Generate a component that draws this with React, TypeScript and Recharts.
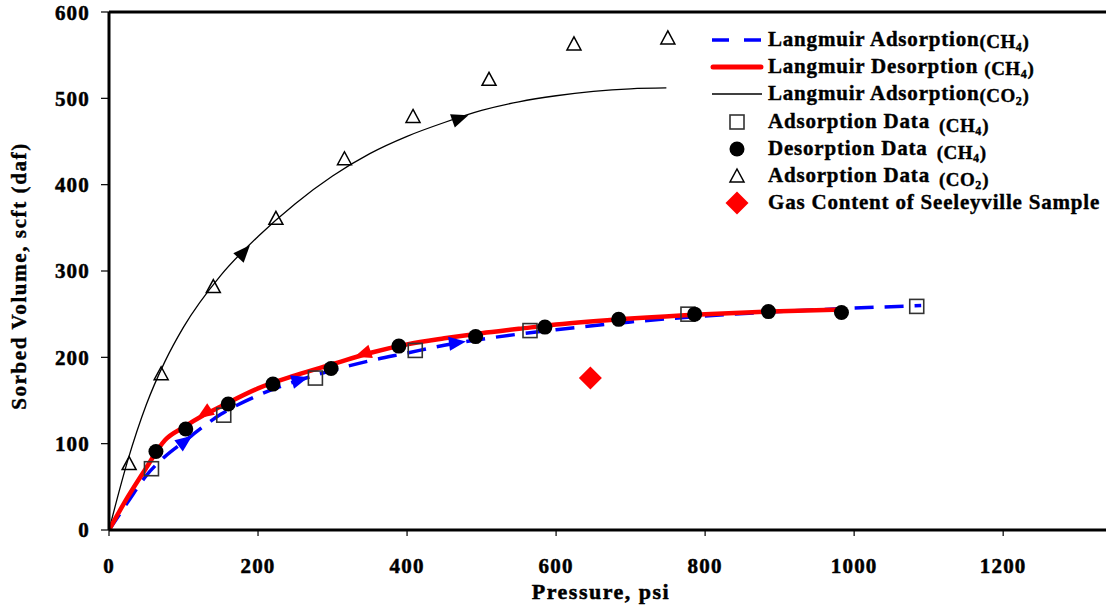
import React from "react";
import { ComposedChart, Line, Scatter, XAxis, YAxis, Legend, ReferenceLine, Label } from "recharts";

// Langmuir fits
const co2Curve = [
  { x: 0, y: 0 }, { x: 25, y: 80 }, { x: 50, y: 145 }, { x: 75, y: 195 }, { x: 100, y: 235 },
  { x: 150, y: 295 }, { x: 200, y: 340 }, { x: 250, y: 378 }, { x: 300, y: 410 }, { x: 350, y: 436 },
  { x: 400, y: 456 }, { x: 450, y: 472 }, { x: 500, y: 486 }, { x: 550, y: 496 }, { x: 600, y: 503 },
  { x: 650, y: 508 }, { x: 700, y: 511 }, { x: 748, y: 512 },
];
const ch4AdsCurve = [
  { x: 0, y: 0 }, { x: 25, y: 32 }, { x: 50, y: 63 }, { x: 75, y: 85 }, { x: 100, y: 102 },
  { x: 150, y: 134 }, { x: 200, y: 156 }, { x: 250, y: 172 }, { x: 300, y: 185 }, { x: 350, y: 196 },
  { x: 400, y: 205 }, { x: 450, y: 214 }, { x: 500, y: 221 }, { x: 600, y: 232 }, { x: 700, y: 241 },
  { x: 800, y: 248 }, { x: 900, y: 253 }, { x: 1000, y: 257 }, { x: 1090, y: 260 },
];
const ch4DesCurve = [
  { x: 0, y: 0 }, { x: 25, y: 38 }, { x: 50, y: 72 }, { x: 75, y: 104 }, { x: 100, y: 119 },
  { x: 125, y: 132 }, { x: 150, y: 143 }, { x: 200, y: 164 }, { x: 250, y: 179 }, { x: 300, y: 192 },
  { x: 350, y: 205 }, { x: 400, y: 215 }, { x: 450, y: 222 }, { x: 500, y: 228 }, { x: 550, y: 233 },
  { x: 600, y: 238 }, { x: 700, y: 245 }, { x: 800, y: 250 }, { x: 900, y: 253.5 }, { x: 985, y: 255.5 },
];

// measured points
const ch4AdsData = [
  { x: 57, y: 71 }, { x: 154, y: 133 }, { x: 277, y: 176 }, { x: 411, y: 208 },
  { x: 565, y: 231 }, { x: 777, y: 250 }, { x: 1084, y: 259 },
];
const ch4DesData = [
  { x: 63, y: 91 }, { x: 103, y: 117 }, { x: 160, y: 146 }, { x: 220, y: 169 }, { x: 298, y: 187 },
  { x: 389, y: 213 }, { x: 492, y: 224 }, { x: 585, y: 235 }, { x: 684, y: 244 }, { x: 786, y: 250 },
  { x: 885, y: 253 }, { x: 983, y: 252 },
];
const co2AdsData = [
  { x: 27, y: 77 }, { x: 70, y: 181 }, { x: 140, y: 282 }, { x: 224, y: 361 }, { x: 316, y: 430 },
  { x: 408, y: 479 }, { x: 510, y: 522 }, { x: 624, y: 563 }, { x: 750, y: 570 },
];
const gasContent = [{ x: 646, y: 176 }];

// direction arrows on the curves: point + point it heads toward
const co2Arrows = [{ x: 181, y: 322, tx: 200, ty: 340 }, { x: 471, y: 477, tx: 500, ty: 486 }];
const adsArrows = [
  { x: 102, y: 103, tx: 150, ty: 134 }, { x: 256, y: 174, tx: 300, ty: 185 }, { x: 467, y: 217, tx: 500, ty: 221 },
];
const desArrows = [{ x: 128, y: 135, tx: 100, ty: 119 }, { x: 341, y: 204, tx: 300, ty: 192 }];

const xTicks = [0, 200, 400, 600, 800, 1000, 1200];
const yTicks = [0, 100, 200, 300, 400, 500, 600];

const legendRows = [
  { label: "Langmuir Adsorption", gas: "(CH", sub: "4", tail: ")" },
  { label: "Langmuir Desorption ", gas: "(CH", sub: "4", tail: ")" },
  { label: "Langmuir Adsorption", gas: "(CO", sub: "2", tail: ")" },
  { label: "Adsorption Data ", gas: "(CH", sub: "4", tail: ")" },
  { label: "Desorption Data ", gas: "(CH", sub: "4", tail: ")" },
  { label: "Adsorption Data ", gas: "(CO", sub: "2", tail: ")" },
  { label: "Gas Content of Seeleyville Sample", gas: "", sub: "", tail: "" },
];

const W = 1106;
const H = 611;
const X_MAX = 1338;
const Y_MAX = 600;
const MARGIN = { top: 12, right: 0, bottom: 0, left: 0 };
const Y_AXIS_W = 109;
const X_AXIS_H = 81;
const KX = (W - Y_AXIS_W) / X_MAX;
const KY = (H - MARGIN.top - X_AXIS_H) / Y_MAX;
const SERIF = "'Liberation Serif', 'Times New Roman', serif";

const arrowShape = (color: string) => (props: any) => {
  const { cx, cy, payload } = props;
  const ang = (Math.atan2(-(payload.ty - payload.y) * KY, (payload.tx - payload.x) * KX) * 180) / Math.PI;
  return <path d="M9,0 L-8,-7 L-8,7 Z" fill={color} transform={`translate(${cx},${cy}) rotate(${ang})`} />;
};

const Square = ({ cx, cy }: any) => (
  <rect x={cx - 7} y={cy - 7} width={14} height={14} fill="none" stroke="#333" strokeWidth={1.6} />
);
const Dot = ({ cx, cy }: any) => <circle cx={cx} cy={cy} r={7.5} fill="#000" />;
const Tri = ({ cx, cy }: any) => (
  <path d={`M${cx},${cy - 7} L${cx + 7},${cy + 6} L${cx - 7},${cy + 6} Z`} fill="none" stroke="#000" strokeWidth={1.5} />
);
const Diamond = ({ cx, cy }: any) => (
  <path d={`M${cx},${cy - 11.5} L${cx + 11.5},${cy} L${cx},${cy + 11.5} L${cx - 11.5},${cy} Z`} fill="#ff0000" />
);

function LegendIcon({ i, y }: { i: number; y: number }) {
  const mx = 37;
  if (i === 0) return <line x1={12} x2={62} y1={y} y2={y} stroke="#0000ff" strokeWidth={3.5} strokeDasharray="17 15" />;
  if (i === 1) return <line x1={13} x2={61} y1={y} y2={y} stroke="#ff0000" strokeWidth={5} strokeLinecap="round" />;
  if (i === 2) return <line x1={12} x2={62} y1={y} y2={y} stroke="#000" strokeWidth={1.3} />;
  if (i === 3) return <Square cx={mx} cy={y} />;
  if (i === 4) return <Dot cx={mx} cy={y} />;
  if (i === 5) return <Tri cx={mx} cy={y} />;
  return <Diamond cx={mx} cy={y} />;
}

function LegendBox() {
  const base = [26, 53, 80, 108, 135, 162, 189];
  return (
    <svg width={406} height={200} style={{ overflow: "visible" }}>
      {legendRows.map((r, i) => {
        const lower = i >= 3 && i <= 5;
        return (
          <g key={i}>
            <LegendIcon i={i} y={base[i] - 6} />
            <text
              x={68}
              y={base[i]}
              fontFamily={SERIF}
              fontWeight={700}
              fontSize={21}
              letterSpacing={0.8}
              fill="#000"
              stroke="#000"
              strokeWidth={0.4}
            >
              {r.label}
              {r.gas && (
                <tspan fontSize={19} letterSpacing={0.5} dx={lower ? 3 : 0} dy={lower ? 4 : 2}>
                  {r.gas}
                </tspan>
              )}
              {r.sub && (
                <tspan fontSize={12} dy={3}>
                  {r.sub}
                </tspan>
              )}
              {r.tail && (
                <tspan fontSize={19} dy={-3}>
                  {r.tail}
                </tspan>
              )}
            </text>
          </g>
        );
      })}
    </svg>
  );
}

const tickStyle = {
  fill: "#000",
  stroke: "#000",
  strokeWidth: 0.5,
  fontSize: 21,
  fontWeight: 700,
  fontFamily: SERIF,
  letterSpacing: 1.2,
};

export default function App() {
  return (
    <div style={{ width: W, height: H, background: "#fff" }}>
      <style>{"body{margin:0}"}</style>
      <ComposedChart width={W} height={H} margin={MARGIN}>
        <XAxis
          dataKey="x"
          type="number"
          domain={[0, X_MAX]}
          ticks={xTicks}
          allowDataOverflow
          height={X_AXIS_H}
          axisLine={{ stroke: "#000", strokeWidth: 3 }}
          tickLine={{ stroke: "#000", strokeWidth: 1.2 }}
          tickSize={6}
          tickMargin={22}
          tick={tickStyle}
        >
          <Label
            content={() => (
              <text
                x={601}
                y={599}
                textAnchor="middle"
                fontFamily={SERIF}
                fontWeight={700}
                fontSize={22}
                letterSpacing={1.5}
                fill="#000"
                stroke="#000"
                strokeWidth={0.5}
              >
                Pressure, psi
              </text>
            )}
          />
        </XAxis>
        <YAxis
          type="number"
          domain={[0, Y_MAX]}
          ticks={yTicks}
          width={Y_AXIS_W}
          axisLine={{ stroke: "#000", strokeWidth: 3 }}
          tickLine={{ stroke: "#000", strokeWidth: 1.2 }}
          tickSize={8}
          tickMargin={11}
          tick={tickStyle}
        >
          <Label
            content={() => (
              <text
                x={19}
                y={276}
                transform="rotate(-90 19 276)"
                textAnchor="middle"
                dominantBaseline="central"
                fontFamily={SERIF}
                fontWeight={700}
                fontSize={21}
                letterSpacing={1.6}
                fill="#000"
                stroke="#000"
                strokeWidth={0.4}
              >
                Sorbed Volume, scft (daf)
              </text>
            )}
          />
        </YAxis>
        <ReferenceLine y={Y_MAX} stroke="#000" strokeWidth={3} ifOverflow="visible" />
        <Legend
          layout="vertical"
          align="center"
          verticalAlign="middle"
          wrapperStyle={{ left: 700, top: 20, width: 406, height: 200 }}
          content={() => <LegendBox />}
        />
        <Line data={co2Curve} dataKey="y" type="monotone" stroke="#000" strokeWidth={1.3} dot={false} activeDot={false} isAnimationActive={false} />
        <Line data={ch4AdsCurve} dataKey="y" type="monotone" stroke="#0000ff" strokeWidth={3.5} strokeDasharray="19 11" dot={false} activeDot={false} isAnimationActive={false} />
        <Line data={ch4DesCurve} dataKey="y" type="monotone" stroke="#ff0000" strokeWidth={4.5} dot={false} activeDot={false} isAnimationActive={false} />
        <Scatter data={co2Arrows} dataKey="y" shape={arrowShape("#000")} isAnimationActive={false} />
        <Scatter data={adsArrows} dataKey="y" shape={arrowShape("#0000ff")} isAnimationActive={false} />
        <Scatter data={desArrows} dataKey="y" shape={arrowShape("#ff0000")} isAnimationActive={false} />
        <Scatter data={ch4AdsData} dataKey="y" shape={Square} isAnimationActive={false} />
        <Scatter data={ch4DesData} dataKey="y" shape={Dot} isAnimationActive={false} />
        <Scatter data={co2AdsData} dataKey="y" shape={Tri} isAnimationActive={false} />
        <Scatter data={gasContent} dataKey="y" shape={Diamond} isAnimationActive={false} />
      </ComposedChart>
    </div>
  );
}
